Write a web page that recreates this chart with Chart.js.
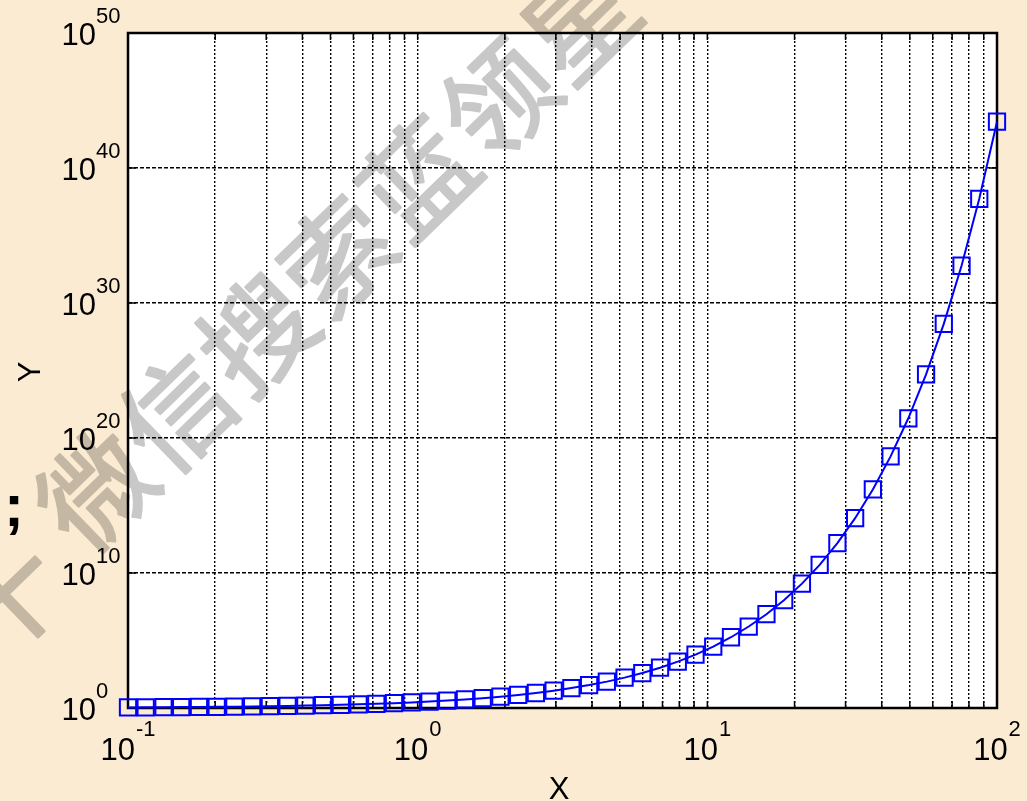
<!DOCTYPE html>
<html>
<head>
<meta charset="utf-8">
<script src="https://cdn.jsdelivr.net/npm/chart.js@4"></script>
<style>
    html, body { margin: 0; padding: 0; background: #faebd2; }
    #wrap { width: 1027px; height: 801px; }
</style>
</head>
<body>
<div id="wrap"><canvas id="myChart" width="1027" height="801"></canvas></div>
<script>
// sample points (x on log axis, y = measured value)
const xValues = [0.1, 0.1151, 0.1326, 0.1526, 0.1758, 0.2024, 0.2330, 0.2683, 0.3089, 0.3556,
    0.4095, 0.4715, 0.5429, 0.6251, 0.7197, 0.8286, 0.9541, 1.0985, 1.2649, 1.4564,
    1.6768, 1.9307, 2.2230, 2.5596, 2.9471, 3.3932, 3.9069, 4.4984, 5.1795, 5.9636,
    6.8665, 7.9060, 9.1030, 10.481, 12.068, 13.895, 15.999, 18.421, 21.210, 24.421,
    28.118, 32.375, 37.276, 42.919, 49.417, 56.899, 65.513, 75.431, 86.851, 100];
const yValues = [1.105, 1.122, 1.142, 1.165, 1.192, 1.224, 1.262, 1.308, 1.362, 1.427,
    1.506, 1.602, 1.721, 1.868, 2.054, 2.290, 2.596, 3.000, 3.543, 4.290,
    5.349, 6.894, 9.235, 12.93, 19.05, 29.77, 49.75, 89.87, 177.6, 389.3,
    959.8, 2714, 8997, 3.564e4, 1.742e5, 1.083e6, 8.874e6, 1.000e8, 1.626e9, 4.034e10,
    1.627e12, 1.148e14, 1.544e16, 4.361e18, 2.895e21, 5.139e24, 2.831e28, 5.746e32, 5.236e37, 2.688e43];

// grid lines / tick positions
const xGridValues = [0.1, 0.2, 0.3, 0.4, 0.5, 0.6, 0.7, 0.8, 0.9,
    1, 2, 3, 4, 5, 6, 7, 8, 9,
    10, 20, 30, 40, 50, 60, 70, 80, 90, 100];
const yGridValues = [1, 1e10, 1e20, 1e30, 1e40, 1e50];

// tick labels written as 10^p
const xLabelPowers = [-1, 0, 1, 2];
const yLabelPowers = [0, 10, 20, 30, 40, 50];

const watermarkChars = ['十', '微', '信', '搜', '索', '蓝', '领', '星'];

const labelFont = '"Liberation Sans", Arial, sans-serif';

// beige page, white plot area, grey watermark under the grid
const backgroundPlugin = {
    id: 'backgroundPlugin',
    beforeDraw(chart){
        const ctx = chart.ctx;
        const area = chart.chartArea;
        ctx.save();
        ctx.fillStyle = '#faebd2';
        ctx.fillRect(0, 0, chart.width, chart.height);
        ctx.fillStyle = '#ffffff';
        ctx.fillRect(area.left, area.top, area.right - area.left, area.bottom - area.top);

        // watermark is drawn on its own canvas first, then multiplied in once
        const off = document.createElement('canvas');
        off.width = chart.width;
        off.height = chart.height;
        const octx = off.getContext('2d');
        octx.fillStyle = 'rgb(200,200,200)';
        octx.strokeStyle = 'rgb(200,200,200)';
        octx.lineWidth = 2.5;
        octx.lineJoin = 'round';
        octx.font = '110px "Noto Sans CJK SC"';
        octx.textAlign = 'center';
        octx.textBaseline = 'middle';
        const angle = Math.atan2(-78, 80.5);
        watermarkChars.forEach((ch, i) => {
            let cx = 96 + (i - 1) * 80.5;
            let cy = 490 - (i - 1) * 78;
            // first glyph sits a bit lower, mostly off the page
            if(i == 0){ cx = 6; cy = 598; }
            octx.save();
            octx.translate(cx, cy);
            octx.rotate(angle);
            octx.fillText(ch, 0, 0);
            octx.strokeText(ch, 0, 0);
            octx.restore();
        });
        ctx.globalCompositeOperation = 'multiply';
        ctx.drawImage(off, 0, 0);
        ctx.restore();
    }
};

// matlab style box with inward ticks
const framePlugin = {
    id: 'framePlugin',
    beforeDatasetsDraw(chart){
        const ctx = chart.ctx;
        const area = chart.chartArea;
        const xs = chart.scales.x;
        const ys = chart.scales.y;
        ctx.save();
        ctx.strokeStyle = '#000';
        ctx.lineWidth = 1.5;
        ctx.beginPath();
        xGridValues.forEach(v => {
            const px = xs.getPixelForValue(v);
            ctx.moveTo(px, area.bottom);
            ctx.lineTo(px, area.bottom - 7);
            ctx.moveTo(px, area.top);
            ctx.lineTo(px, area.top + 7);
        });
        yGridValues.forEach(v => {
            const py = ys.getPixelForValue(v);
            ctx.moveTo(area.left, py);
            ctx.lineTo(area.left + 8, py);
            ctx.moveTo(area.right, py);
            ctx.lineTo(area.right - 8, py);
        });
        ctx.stroke();
        ctx.lineWidth = 2.5;
        ctx.strokeRect(area.left, area.top, area.right - area.left, area.bottom - area.top);
        ctx.restore();
    },
    afterDraw(chart){
        const ctx = chart.ctx;
        const area = chart.chartArea;
        const xs = chart.scales.x;
        const ys = chart.scales.y;
        ctx.save();
        ctx.fillStyle = '#000';
        ctx.textBaseline = 'alphabetic';

        // y tick labels
        yLabelPowers.forEach(p => {
            const py = ys.getPixelForValue(Math.pow(10, p));
            ctx.font = '31px ' + labelFont;
            ctx.textAlign = 'right';
            ctx.fillText('10', 96, py + 12);
            ctx.font = '22px ' + labelFont;
            ctx.textAlign = 'left';
            ctx.fillText(String(p), 96, py - 10);
        });

        // x tick labels
        xLabelPowers.forEach(p => {
            const px = xs.getPixelForValue(Math.pow(10, p));
            ctx.font = '31px ' + labelFont;
            const w10 = ctx.measureText('10').width;
            ctx.font = '22px ' + labelFont;
            const wExp = ctx.measureText(String(p)).width;
            const start = px - (w10 + wExp + 1) / 2;
            ctx.textAlign = 'left';
            ctx.font = '31px ' + labelFont;
            ctx.fillText('10', start, area.bottom + 52);
            ctx.font = '22px ' + labelFont;
            ctx.fillText(String(p), start + w10 + 1, area.bottom + 28);
        });

        // axis titles
        ctx.font = '31px ' + labelFont;
        ctx.textAlign = 'center';
        ctx.fillText('X', 559, 799);
        ctx.save();
        ctx.translate(40, 372);
        ctx.rotate(-Math.PI / 2);
        ctx.fillText('Y', 0, 0);
        ctx.restore();

        // stray semicolon on the left margin
        ctx.font = 'bold 60px ' + labelFont;
        ctx.fillText(';', 14, 526);
        ctx.restore();
    }
};

const context = document.getElementById('myChart');

new Chart(context, {
    type: 'line',
    data: {
        datasets: [{
            data: xValues.map((x, i) => ({x: x, y: yValues[i]})),
            borderColor: '#0000ff',
            borderWidth: 2,
            tension: 0,
            fill: false,
            clip: false,
            pointStyle: 'rect',
            pointRadius: 11.5,
            pointBorderWidth: 2,
            pointBorderColor: '#0000ff',
            pointBackgroundColor: 'rgba(0,0,0,0)'
        }]
    },
    options: {
        responsive: false,
        animation: false,
        layout: {
            padding: {left: 128, top: 33, right: 30, bottom: 93}
        },
        plugins: {
            legend: {display: false},
            tooltip: {enabled: false}
        },
        scales: {
            x: {
                type: 'logarithmic',
                min: 0.1,
                max: 100,
                afterBuildTicks: function(scale){
                    scale.ticks = xGridValues.map(v => ({value: v}));
                },
                ticks: {display: false},
                grid: {color: '#000', lineWidth: 1.4, drawTicks: false},
                border: {display: false, dash: [2, 2]}
            },
            y: {
                type: 'logarithmic',
                min: 1,
                max: 1e50,
                afterBuildTicks: function(scale){
                    scale.ticks = yGridValues.map(v => ({value: v}));
                },
                ticks: {display: false},
                grid: {color: '#000', lineWidth: 1.4, drawTicks: false},
                border: {display: false, dash: [4, 2]}
            }
        }
    },
    plugins: [backgroundPlugin, framePlugin]
});
</script>
</body>
</html>
